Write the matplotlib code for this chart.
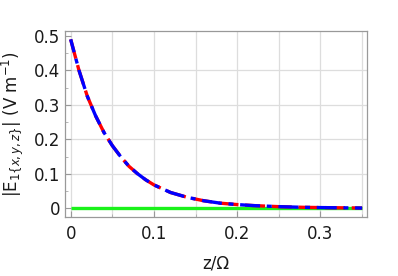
import numpy as np
import matplotlib
matplotlib.use("Agg")
import matplotlib.pyplot as plt

# field components
z = [0.0, 0.01, 0.02, 0.03, 0.04, 0.05, 0.06, 0.07, 0.08, 0.09, 0.10,
     0.12, 0.14, 0.16, 0.18, 0.20, 0.22, 0.25, 0.28, 0.31, 0.35]
e_x = [0.490, 0.400, 0.325, 0.268, 0.220, 0.182, 0.150, 0.122, 0.101, 0.083, 0.068,
       0.046, 0.032, 0.022, 0.015, 0.011, 0.008, 0.005, 0.003, 0.002, 0.001]
e_y = list(e_x)
e_z = [0.0] * len(z)

xticks = [0, 0.1, 0.2, 0.3]
xtick_labels = ["0", "0.1", "0.2", "0.3"]
yticks = [0, 0.1, 0.2, 0.3, 0.4, 0.5]
ytick_labels = ["0", "0.1", "0.2", "0.3", "0.4", "0.5"]

fig = plt.figure(figsize=(3.98, 2.76), dpi=100)
ax = fig.add_axes([64.5 / 398, 1 - 217 / 276, (366.7 - 64.5) / 398, (217 - 30.7) / 276])

# grid
for gx in np.arange(0, 0.351, 0.05):
    ax.axvline(gx, color="#dddddd", lw=0.9, zorder=0)
for gy in [0.1, 0.2, 0.3, 0.4]:
    ax.axhline(gy, color="#dddddd", lw=0.9, zorder=0)

ax.plot(z, e_z, color=(0.1, 0.95, 0.1), lw=2.4, solid_capstyle="butt", zorder=2)
ax.plot(z, e_x, color="red", lw=2.4, ls=(0, (6, 2)), zorder=3)
ax.plot(z, e_y, color="blue", lw=2.4, ls=(2, (6, 2, 1.5, 2)), zorder=4)

ax.set_xlim(-0.0074, 0.3555)
ax.set_ylim(-0.025, 0.515)
ax.set_xticks(xticks)
ax.set_xticklabels(xtick_labels)
ax.set_yticks(yticks)
ax.set_yticklabels(ytick_labels)
ax.set_xticks(np.arange(0, 0.351, 0.05), minor=True)
ax.set_yticks(np.arange(0, 0.51, 0.05), minor=True)
ax.tick_params(direction="in", length=4, width=0.8, color="#999999", labelsize=12,
               labelcolor="#1a1a1a", pad=6)
ax.tick_params(which="minor", direction="in", length=2, width=0.6, color="#aaaaaa")
ax.tick_params(axis="y", pad=3)
for s in ax.spines.values():
    s.set_color("#999999")
    s.set_linewidth(0.9)

ax.set_xlabel("z/Ω", fontsize=12, color="#1a1a1a", labelpad=8)
ax.set_ylabel(r"|E$_{1\{x,y,z\}}$| (V m$^{-1}$)", fontsize=12, color="#1a1a1a", labelpad=6)

fig.savefig("out.png", dpi=100)
